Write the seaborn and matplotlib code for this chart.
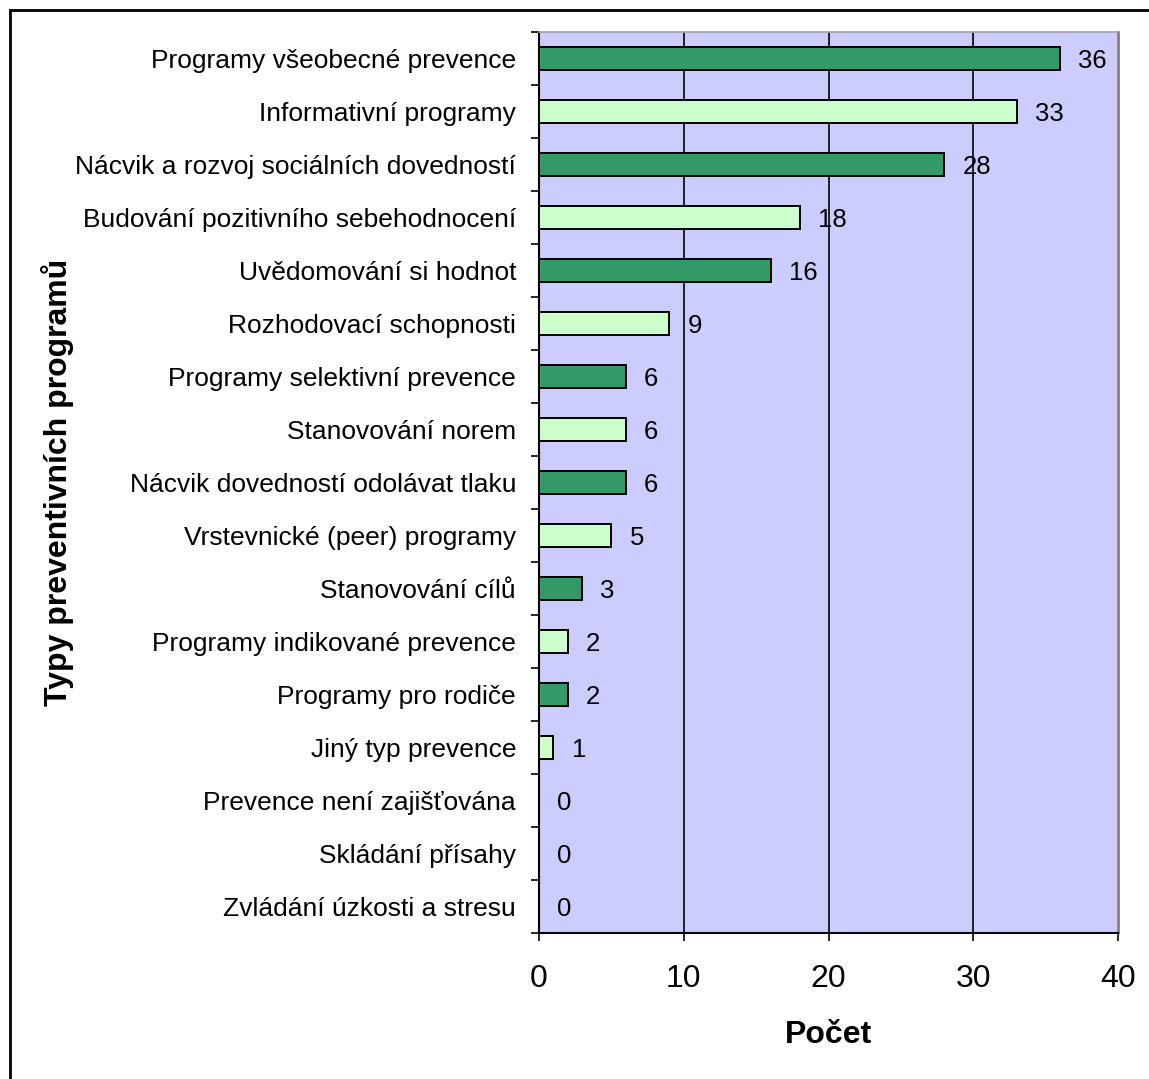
import matplotlib
matplotlib.use("Agg")
import matplotlib.pyplot as plt
from matplotlib.patches import Rectangle
from matplotlib.ticker import FixedLocator
import seaborn as sns
import pandas as pd

categories = [
    "Programy všeobecné prevence",
    "Informativní programy",
    "Nácvik a rozvoj sociálních dovedností",
    "Budování pozitivního sebehodnocení",
    "Uvědomování si hodnot",
    "Rozhodovací schopnosti",
    "Programy selektivní prevence",
    "Stanovování norem",
    "Nácvik dovedností odolávat tlaku",
    "Vrstevnické (peer) programy",
    "Stanovování cílů",
    "Programy indikované prevence",
    "Programy pro rodiče",
    "Jiný typ prevence",
    "Prevence není zajišťována",
    "Skládání přísahy",
    "Zvládání úzkosti a stresu",
]
counts = [36, 33, 28, 18, 16, 9, 6, 6, 6, 5, 3, 2, 2, 1, 0, 0, 0]
x_ticks = [0, 10, 20, 30, 40]

dark_green = "#339966"
light_green = "#CCFFCC"
plot_bg = "#CCCCFF"

sns.set_theme(style="white")
plt.rcParams["font.family"] = ["Liberation Sans", "DejaVu Sans"]
plt.rcParams["text.color"] = "black"
plt.rcParams["axes.labelcolor"] = "black"
plt.rcParams["xtick.color"] = "black"
plt.rcParams["ytick.color"] = "black"

df = pd.DataFrame({"typ": categories, "pocet": counts})
palette = {c: (dark_green if i % 2 == 0 else light_green) for i, c in enumerate(categories)}

fig = plt.figure(figsize=(11.49, 10.79), dpi=100)
ax = fig.add_axes([539 / 1149, 1 - 933 / 1079, (1118 - 539) / 1149, (933 - 32) / 1079])

sns.barplot(data=df, y="typ", x="pocet", hue="typ", palette=palette, order=categories,
            hue_order=categories, legend=False, width=0.42, edgecolor="black",
            linewidth=1.4, saturation=1, ax=ax, zorder=3)

ax.set_facecolor(plot_bg)
ax.set_xlim(0, 40)
ax.set_ylim(len(categories) - 0.5, -0.5)

for v in x_ticks[1:-1]:
    ax.axvline(v, color="black", linewidth=1.2, zorder=1)

# value labels to the right of each bar
for i, v in enumerate(counts):
    ax.annotate(str(v), xy=(v, i), xytext=(13, -1.5), textcoords="offset points",
                ha="left", va="center", fontsize=18.5, color="black")

ax.set_xticks(x_ticks)
ax.set_xticklabels([str(t) for t in x_ticks], fontsize=23)
ax.tick_params(axis="x", direction="out", length=6, width=1.2, color="black",
               pad=16, bottom=True, labelcolor="black")

ax.set_yticks(range(len(categories)))
ax.set_yticklabels(categories, fontsize=19)
ax.tick_params(axis="y", which="major", length=0, pad=16.5, labelcolor="black")
ax.yaxis.set_minor_locator(FixedLocator([i - 0.5 for i in range(len(categories) + 1)]))
ax.tick_params(axis="y", which="minor", direction="out", length=6, width=1.2,
               color="black", left=True)

ax.set_xlabel("Počet", fontsize=23, fontweight="bold", labelpad=19, color="black")
ax.set_ylabel("Typy preventivních programů", fontsize=23, fontweight="bold",
              labelpad=1, color="black")

for side in ["left", "bottom"]:
    ax.spines[side].set_color("black")
    ax.spines[side].set_linewidth(1.5)
ax.spines["top"].set_color("#A0A0A0")
ax.spines["top"].set_linewidth(1.2)
ax.spines["right"].set_color("#808080")
ax.spines["right"].set_linewidth(2)

# chart area frame
fig.patches.append(Rectangle((10 / 1149, -0.05), 1.1, 1 - 10 / 1079 + 0.05,
                             transform=fig.transFigure, fill=False,
                             edgecolor="black", linewidth=2))

fig.savefig("out.png", dpi=100, facecolor="white")
